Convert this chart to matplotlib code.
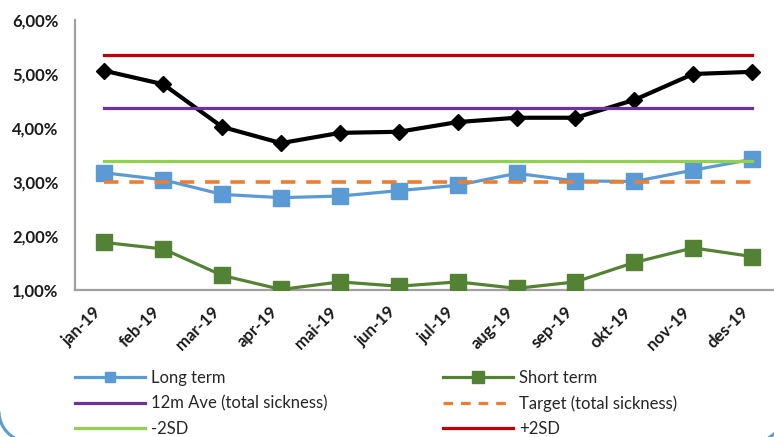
import matplotlib
matplotlib.use("Agg")
import numpy as np
import matplotlib.pyplot as plt
from matplotlib.lines import Line2D
from matplotlib.ticker import FuncFormatter

plt.rcParams['font.family'] = ['Lato', 'DejaVu Sans']

months = ["jan-19", "feb-19", "mar-19", "apr-19", "mai-19", "jun-19",
          "jul-19", "aug-19", "sep-19", "okt-19", "nov-19", "des-19"]

total_sickness = [5.06, 4.81, 4.02, 3.72, 3.91, 3.93, 4.11, 4.19, 4.19, 4.52, 5.00, 5.04]
long_term = [3.17, 3.04, 2.77, 2.71, 2.74, 2.84, 2.94, 3.16, 3.02, 3.01, 3.22, 3.42]
short_term = [1.88, 1.76, 1.27, 1.01, 1.15, 1.07, 1.15, 1.03, 1.15, 1.51, 1.78, 1.62]
ave_12m = [4.37] * 12
target = [3.00] * 12
minus_2sd = [3.39] * 12
plus_2sd = [5.35] * 12

C_BLUE = "#5B9BD5"
C_GREEN = "#548235"
C_PURPLE = "#7030A0"
C_ORANGE = "#ED7D31"
C_LGREEN = "#92D050"
C_RED = "#C00000"

W, H = 774, 437
fig = plt.figure(figsize=(W / 100, H / 100), dpi=100)

# Pixel-unit overlay (origin top-left) for the rounded corners of the
# chart-area frame that fall inside the canvas
bg = fig.add_axes([0, 0, 1, 1], zorder=-1)
bg.set_xlim(0, W)
bg.set_ylim(H, 0)
bg.axis("off")
radius, cy = 30, 411.6
t_left = np.linspace(np.pi / 2, np.pi, 60)
t_right = np.linspace(0, np.pi / 2, 60)
bg.plot(29 + radius * np.cos(t_left), cy + radius * np.sin(t_left),
        color=C_BLUE, lw=2.2, solid_capstyle="butt")
bg.plot(754 + radius * np.cos(t_right), cy + radius * np.sin(t_right),
        color=C_BLUE, lw=2.2, solid_capstyle="butt")

ax = fig.add_axes([75 / W, (H - 290) / H, (781.5 - 75) / W, 270 / H])
ax.patch.set_alpha(0)

x = list(range(len(months)))

ax.plot(x, long_term, color=C_BLUE, lw=2.3, marker="s", ms=11,
        mfc=C_BLUE, mec=C_BLUE, zorder=3)
ax.plot(x, short_term, color=C_GREEN, lw=2.3, marker="s", ms=12,
        mfc=C_GREEN, mec=C_GREEN, zorder=3)
ax.plot(x, total_sickness, color="black", lw=3, marker="D", ms=8,
        mfc="black", mec="black", zorder=3)
ax.plot(x, ave_12m, color=C_PURPLE, lw=2.3, zorder=4)
ax.plot(x, target, color=C_ORANGE, lw=2.6, ls=(0, (4, 3)), zorder=4)
ax.plot(x, minus_2sd, color=C_LGREEN, lw=2.3, zorder=4)
ax.plot(x, plus_2sd, color=C_RED, lw=2.3, zorder=4)

ax.set_xlim(-0.5, 11.5)
ax.set_ylim(1.0, 6.0)
ax.set_yticks([1, 2, 3, 4, 5, 6])
ax.yaxis.set_major_formatter(FuncFormatter(lambda v, p: f"{v:.2f}%".replace(".", ",")))
ax.set_xticks(x)
ax.set_xticklabels(months, rotation=45, ha="right", va="top")

for side in ("top", "right"):
    ax.spines[side].set_visible(False)
for side in ("left", "bottom"):
    ax.spines[side].set_color("#A0A0A0")
    ax.spines[side].set_linewidth(1.6)

ax.tick_params(axis="y", length=0, pad=12, labelsize=12)
ax.tick_params(axis="x", length=0, pad=10, labelsize=12)
for lbl in ax.get_xticklabels() + ax.get_yticklabels():
    lbl.set_fontweight("bold")
    lbl.set_color("#1a1a1a")

# Legend handles
h_long = Line2D([], [], color=C_BLUE, lw=2.3, marker="s", ms=7, mfc=C_BLUE, mec=C_BLUE)
h_short = Line2D([], [], color=C_GREEN, lw=2.3, marker="s", ms=9, mfc=C_GREEN, mec=C_GREEN)
h_ave = Line2D([], [], color=C_PURPLE, lw=2.3)
h_target = Line2D([], [], color=C_ORANGE, lw=2.3, ls=(0, (3, 2.5)))
h_m2 = Line2D([], [], color=C_LGREEN, lw=2.3)
h_p2 = Line2D([], [], color=C_RED, lw=2.3)

leg_kw = dict(frameon=False, fontsize=12, handlelength=4.2, handletextpad=0.35,
              labelspacing=0.56, borderpad=0, borderaxespad=0,
              bbox_transform=fig.transFigure, loc="upper left")
leg1 = fig.legend([h_long, h_ave, h_m2],
                  ["Long term", "12m Ave (total sickness)", "-2SD"],
                  bbox_to_anchor=(75 / W, (H - 370) / H), **leg_kw)
leg2 = fig.legend([h_short, h_target, h_p2],
                  ["Short term", "Target (total sickness)", "+2SD"],
                  bbox_to_anchor=(443 / W, (H - 370) / H), **leg_kw)
for leg in (leg1, leg2):
    for t in leg.get_texts():
        t.set_color("#262626")

fig.savefig("out.png", dpi=100)
